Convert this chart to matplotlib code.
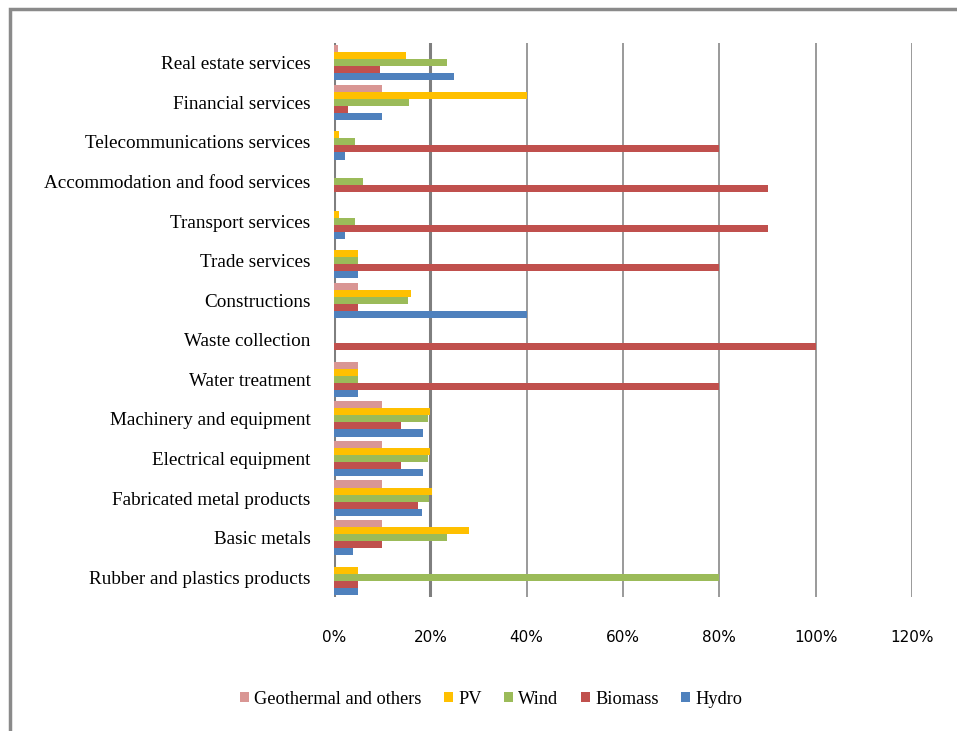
import numpy as np
import matplotlib
matplotlib.use("Agg")
import matplotlib.pyplot as plt
from matplotlib.patches import Rectangle
from matplotlib.ticker import PercentFormatter

# Sectors, listed top to bottom as they appear on the chart
sectors = [
    "Real estate services",
    "Financial services",
    "Telecommunications services",
    "Accommodation and food services",
    "Transport services",
    "Trade services",
    "Constructions",
    "Waste collection",
    "Water treatment",
    "Machinery and equipment",
    "Electrical equipment",
    "Fabricated metal products",
    "Basic metals",
    "Rubber and plastics products",
]

# Share of each renewable source per sector (%)
hydro = [25, 10, 2.3, 0, 2.3, 5, 40, 0, 5, 18.5, 18.5, 18.2, 4, 5]
biomass = [9.5, 3, 80, 90, 90, 80, 5, 100, 80, 14, 14, 17.4, 10, 5]
wind = [23.5, 15.5, 4.4, 6, 4.4, 5, 15.3, 0, 5, 19.5, 19.5, 19.8, 23.5, 80]
pv = [15, 40, 1, 0, 1, 5, 16, 0, 5, 20, 20, 20.3, 28, 5]
geothermal = [0.8, 10, 0, 0, 0, 0, 5, 0, 5, 10, 10, 10, 10, 0]

series = [
    ("Hydro", hydro, "#4F81BD"),
    ("Biomass", biomass, "#C0504D"),
    ("Wind", wind, "#9BBB59"),
    ("PV", pv, "#FFC000"),
    ("Geothermal and others", geothermal, "#D99694"),
]

fig = plt.figure(figsize=(9.57, 7.31), dpi=100)
ax = fig.add_axes([334 / 957, 1 - 597 / 731, (912 - 334) / 957, (597 - 43) / 731])

# outer chart frame (top and left edges visible)
fig.patches.append(Rectangle((10 / 957, -0.05), 1.1, 1 - 9 / 731 + 0.05,
                             transform=fig.transFigure, fill=False,
                             edgecolor="#8a8a8a", linewidth=2.5, zorder=0))

n = len(sectors)
y = np.arange(n)[::-1]
h = 0.178
for i, (name, vals, col) in enumerate(series):
    ax.barh(y + (i - 2) * h, vals, height=h, color=col, label=name,
            linewidth=0, zorder=3)

ax.set_xlim(0, 120)
ax.set_ylim(-0.5, n - 0.5)
ax.set_xticks(np.arange(0, 121, 20))
ax.xaxis.set_major_formatter(PercentFormatter(decimals=0))
ax.set_yticks(y)
ax.set_yticklabels(sectors, family="Liberation Serif", fontsize=13.8)
ax.tick_params(axis="both", length=0)
ax.tick_params(axis="x", pad=24, labelsize=11)
ax.tick_params(axis="y", pad=17)

for x in range(0, 121, 20):
    lw = 2.2 if x in (0, 20) else 1.4
    c = "#7f7f7f" if x in (0, 20) else "#9a9a9a"
    ax.axvline(x, color=c, linewidth=lw, zorder=1)

for s in ax.spines.values():
    s.set_visible(False)

handles, labels = ax.get_legend_handles_labels()
fig.legend(handles[::-1], labels[::-1], loc="center", bbox_to_anchor=(491 / 957, 1 - 699 / 731),
           ncol=5, frameon=False, prop={"family": "Liberation Serif", "size": 13.2},
           handlelength=0.5, handleheight=0.5, handletextpad=0.3, columnspacing=1.2)

fig.savefig("out.png", dpi=100, facecolor="white")
